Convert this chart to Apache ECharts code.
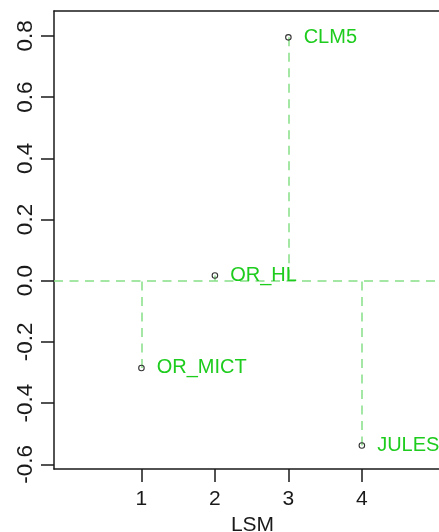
<!DOCTYPE html>
<html>
<head>
<meta charset="utf-8">
<script src="https://cdn.jsdelivr.net/npm/echarts@6/dist/echarts.min.js"></script>
<style>html,body{margin:0;padding:0;background:#fff}#c{width:439px;height:532px}</style>
</head>
<body>
<div id="c"></div>
<script>
const models = ['OR_MICT', 'OR_HL', 'CLM5', 'JULES'];
const xValues = [1, 2, 3, 4];
const yValues = [-0.285, 0.017, 0.795, -0.538];
const xTickValues = [1, 2, 3, 4];
const xTickLabels = ['1', '2', '3', '4'];
const yTickValues = [-0.6, -0.4, -0.2, 0.0, 0.2, 0.4, 0.6, 0.8];
const yTickLabels = ['-0.6', '-0.4', '-0.2', '0.0', '0.2', '0.4', '0.6', '0.8'];
const xTitle = 'LSM';

const font = '"Liberation Sans", Arial, sans-serif';
const axisColor = '#1a1a1a';
const lineGreen = '#86df86';
const labelGreen = '#1ecc1e';

function lookup(vals, labs, v) {
  for (let i = 0; i < vals.length; i++) if (Math.abs(vals[i] - v) < 1e-9) return labs[i];
  return '';
}

const chart = echarts.init(document.getElementById('c'), null, {renderer: 'canvas'});
const pts = models.map((m, i) => ({name: m, value: [xValues[i], yValues[i]]}));
const drops = models.map((m, i) => [{coord: [xValues[i], yValues[i]]}, {coord: [xValues[i], 0]}]);

chart.setOption({
  animation: false,
  backgroundColor: '#fff',
  grid: {left: 54, top: 11, bottom: 63, right: 0, containLabel: false, outerBoundsMode: 'none'},
  xAxis: [{
    type: 'value', min: -0.19, max: 5.05, position: 'bottom',
    name: xTitle, nameLocation: 'middle', nameGap: 46,
    nameTextStyle: {fontFamily: font, fontSize: 21, color: axisColor, padding: [0, 0, 0, 12]},
    axisLine: {show: true, onZero: false, lineStyle: {color: axisColor, width: 1.5}},
    axisTick: {show: true, length: 13, customValues: xTickValues, lineStyle: {color: axisColor, width: 1.5}},
    axisLabel: {show: true, margin: 20, customValues: xTickValues, fontFamily: font, fontSize: 21, color: axisColor,
      formatter: v => lookup(xTickValues, xTickLabels, v)},
    splitLine: {show: false}
  }, {
    type: 'value', min: -0.19, max: 5.05, position: 'top',
    axisLine: {show: true, onZero: false, lineStyle: {color: axisColor, width: 1.5}},
    axisTick: {show: false}, axisLabel: {show: false}, splitLine: {show: false}
  }],
  yAxis: {
    type: 'value', min: -0.615, max: 0.881,
    axisLine: {show: true, onZero: false, lineStyle: {color: axisColor, width: 1.5}},
    axisTick: {show: true, length: 13, customValues: yTickValues, lineStyle: {color: axisColor, width: 1.5}},
    axisLabel: {show: true, rotate: 90, margin: 17, customValues: yTickValues, fontFamily: font, fontSize: 22.5, color: axisColor,
      formatter: v => lookup(yTickValues, yTickLabels, v)},
    splitLine: {show: false}
  },
  series: [{
    type: 'scatter',
    data: pts,
    symbol: 'circle',
    symbolSize: 5.5,
    itemStyle: {color: 'rgba(255,255,255,0)', borderColor: '#333', borderWidth: 1.1, opacity: 1},
    z: 5,
    label: {show: true, position: 'right', distance: 12, formatter: p => p.name,
      fontFamily: font, fontSize: 20, color: labelGreen},
    markLine: {
      silent: true, symbol: 'none', animation: false,
      label: {show: false},
      lineStyle: {color: lineGreen, type: [9, 6.5], width: 1.5},
      data: [{yAxis: 0}].concat(drops)
    }
  }]
});
</script>
</body>
</html>
